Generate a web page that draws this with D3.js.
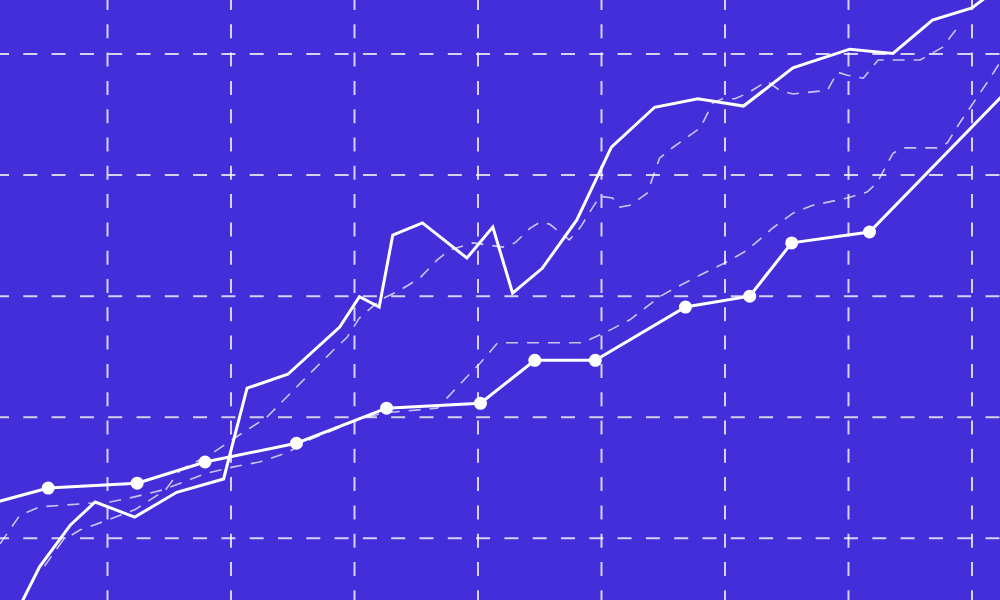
<!DOCTYPE html>
<html>
<head>
<meta charset="utf-8">
<script src="https://cdn.jsdelivr.net/npm/d3@7"></script>
<style>
  html, body { margin: 0; padding: 0; background: #432ed9; }
  svg { display: block; }
</style>
</head>
<body>
<svg id="chart" width="1000" height="600"></svg>
<script>
// ---- data ----
const xTicks = [10, 20, 30, 40, 50, 60, 70, 80];
const yTicks = [20, 40, 60, 80, 100];

// solid series without markers
const seriesA_x = [2.9, 4.5, 7.0, 9.0, 12.2, 15.6, 19.4, 21.3, 24.6, 28.8, 30.4, 32.0, 33.1, 35.5, 39.1, 41.2, 42.8, 45.2, 48.0, 50.8, 54.3, 57.8, 61.5, 65.5, 70.1, 73.6, 76.8, 80.0, 81.9];
const seriesA_y = [8.8, 15.3, 22.2, 26.0, 23.5, 27.6, 29.8, 44.8, 47.1, 54.9, 59.9, 58.2, 70.1, 72.1, 66.3, 71.4, 60.5, 64.6, 72.6, 84.6, 91.2, 92.6, 91.4, 97.7, 100.8, 100.1, 105.6, 107.6, 110.6];

// solid series with markers
const seriesB_x = [-1.5, 5.2, 12.4, 17.9, 25.3, 32.6, 40.2, 44.6, 49.5, 56.8, 62.0, 65.4, 71.7, 83.5];
const seriesB_y = [24.6, 28.3, 29.1, 32.6, 35.7, 41.5, 42.3, 49.4, 49.4, 58.2, 60.0, 68.8, 70.6, 95.3];

// thin dashed series (lower)
const seriesC_x = [1.3, 2.9, 4.5, 8.6, 10.2, 12.1, 14.5, 18.1, 20.2, 22.3, 24.5, 26.4, 28.3, 30.2, 32.3, 36.7, 37.5, 39.4, 40.2, 41.6, 48.5, 49.3, 50.4, 52.3, 54.7, 56.1, 58.0, 60.2, 61.8, 63.9, 65.5, 67.1, 69.9, 71.5, 72.3, 73.6, 74.4, 77.2, 78.0, 79.0, 80.1, 81.2, 82.3];
const seriesC_y = [19.1, 23.8, 25.2, 25.8, 26.0, 26.8, 28.0, 30.8, 31.8, 32.6, 34.1, 36.3, 37.9, 39.5, 40.7, 41.5, 43.2, 47.3, 49.0, 52.3, 52.3, 53.1, 54.1, 56.1, 59.9, 61.5, 63.5, 65.7, 67.6, 71.3, 73.7, 75.0, 76.2, 77.2, 78.7, 83.6, 84.5, 84.5, 85.3, 88.6, 91.9, 95.2, 98.7];

// thin dashed series (upper)
const seriesD_x = [4.9, 6.4, 7.8, 10.0, 12.2, 14.7, 15.9, 18.3, 20.7, 22.9, 25.6, 28.3, 29.4, 30.4, 32.1, 33.7, 35.3, 36.7, 37.7, 39.6, 42.0, 43.0, 44.2, 45.0, 45.8, 46.6, 47.4, 48.3, 49.3, 49.9, 50.9, 51.5, 52.3, 53.7, 54.7, 55.8, 58.0, 59.0, 59.8, 60.8, 61.8, 63.4, 64.5, 65.5, 68.3, 69.1, 69.9, 71.2, 72.4, 75.8, 77.6, 79.0];
const seriesD_y = [15.4, 19.7, 21.4, 23.0, 24.7, 28.0, 31.3, 33.8, 37.1, 40.0, 45.6, 51.1, 53.2, 56.4, 59.4, 61.0, 63.0, 66.0, 67.6, 68.8, 68.1, 68.8, 71.2, 72.2, 71.9, 70.6, 69.3, 71.4, 74.7, 76.5, 76.2, 74.7, 75.0, 77.0, 82.8, 84.6, 87.8, 91.9, 92.6, 92.6, 93.5, 95.5, 93.9, 93.4, 94.0, 97.0, 96.5, 96.0, 99.0, 99.0, 101.1, 104.8];

// ---- drawing ----
const W = 1000, H = 600;
const svg = d3.select("#chart");

svg.append("rect").attr("width", W).attr("height", H).attr("fill", "#432ed9");

const x = d3.scaleLinear().domain([10, 80]).range([107.5, 972]);
const y = d3.scaleLinear().domain([20, 100]).range([538.3, 54]);

const zip = (xs, ys) => xs.map((v, i) => [v, ys[i]]);

// grid via axes
const gridColor = "rgba(255,255,255,0.78)";
const gx = svg.append("g")
  .call(d3.axisTop(x).tickValues(xTicks).tickSize(-H).tickFormat("").offset(0));
const gy = svg.append("g")
  .call(d3.axisLeft(y).tickValues(yTicks).tickSize(-W).tickFormat("").offset(0));
[gx, gy].forEach(g => g.select(".domain").remove());
gx.selectAll(".tick line")
  .attr("stroke", gridColor).attr("stroke-width", 2)
  .attr("stroke-dasharray", "14,14.3").attr("stroke-dashoffset", 4);
gy.selectAll(".tick line")
  .attr("stroke", gridColor).attr("stroke-width", 2)
  .attr("stroke-dasharray", "14,14.3").attr("stroke-dashoffset", 5);

const line = d3.line().x(d => x(d[0])).y(d => y(d[1]));

// thin dashed series
[seriesC_x, seriesD_x].forEach((xs, k) => {
  const ys = k === 0 ? seriesC_y : seriesD_y;
  svg.append("path")
    .datum(zip(xs, ys))
    .attr("d", line)
    .attr("fill", "none")
    .attr("stroke", "rgba(255,255,255,0.72)")
    .attr("stroke-width", 1.6)
    .attr("stroke-dasharray", "12,9");
});

// solid series
svg.append("path")
  .datum(zip(seriesA_x, seriesA_y))
  .attr("d", line)
  .attr("fill", "none")
  .attr("stroke", "#ffffff")
  .attr("stroke-width", 3)
  .attr("stroke-linejoin", "miter");

const bData = zip(seriesB_x, seriesB_y);
svg.append("path")
  .datum(bData)
  .attr("d", line)
  .attr("fill", "none")
  .attr("stroke", "#ffffff")
  .attr("stroke-width", 3);

svg.append("g").selectAll("circle")
  .data(bData)
  .join("circle")
  .attr("cx", d => x(d[0]))
  .attr("cy", d => y(d[1]))
  .attr("r", 6.5)
  .attr("fill", "#ffffff");
</script>
</body>
</html>
